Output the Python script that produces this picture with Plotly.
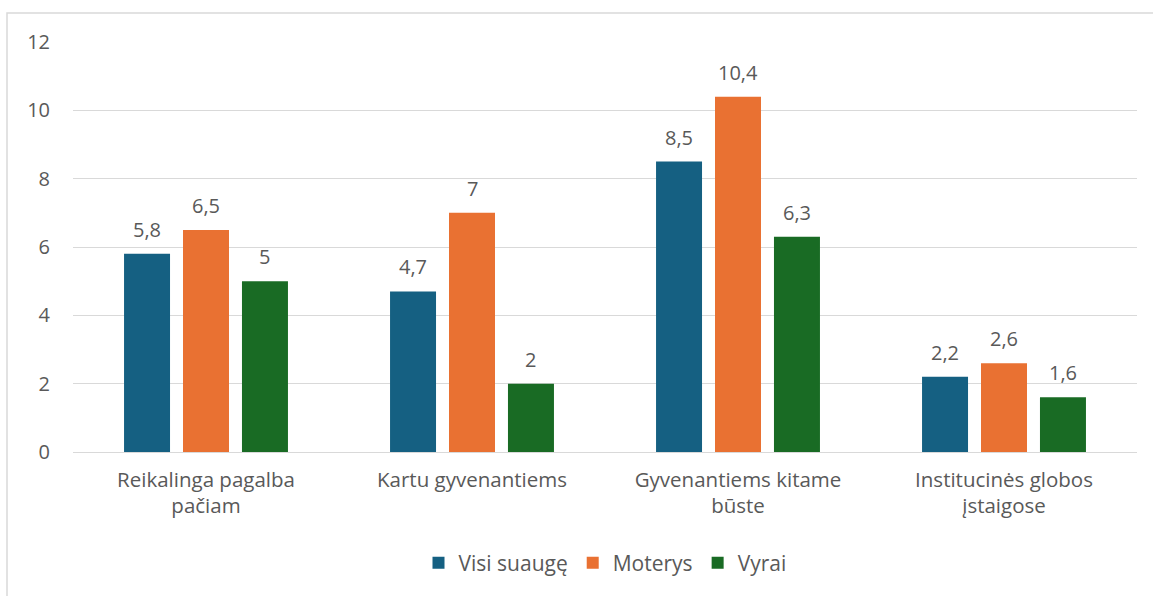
import plotly.graph_objects as go

categories = ["Reikalinga pagalba<br>pačiam", "Kartu gyvenantiems",
              "Gyvenantiems kitame<br>būste", "Institucinės globos<br>įstaigose"]
series_names = ["Visi suaugę", "Moterys", "Vyrai"]
visi = [5.8, 4.7, 8.5, 2.2]
moterys = [6.5, 7.0, 10.4, 2.6]
vyrai = [5.0, 2.0, 6.3, 1.6]
colors = ["#156082", "#E97132", "#196B24"]
y_ticks = [0, 2, 4, 6, 8, 10, 12]

series = [visi, moterys, vyrai]
font_family = "Open Sans, Lato, sans-serif"
txt_color = "#595959"

W, H = 1153, 596
ml, mr, mt, mb = 73, 16, 42, 144
bargap = 0.335
bargroupgap = 0.22

fig = go.Figure()
for name, vals, col in zip(series_names, series, colors):
    fig.add_trace(go.Bar(name=name, x=categories, y=vals, marker_color=col,
                         marker_line_width=0))

def fmt(v):
    return ("%g" % v).replace(".", ",")

annotations = []
n = len(series)
slot = (1 - bargap) / n
for k, vals in enumerate(series):
    for i, v in enumerate(vals):
        annotations.append(dict(
            x=i + (k - (n - 1) / 2) * slot, y=v, xref="x", yref="y",
            text=fmt(v), showarrow=False, yanchor="bottom", yshift=9,
            font=dict(family=font_family, size=20, color=txt_color)))

ph = H - mt - mb
fig.update_layout(
    width=W, height=H,
    margin=dict(l=ml, r=mr, t=mt, b=mb),
    paper_bgcolor="white", plot_bgcolor="white",
    barmode="group", bargap=bargap, bargroupgap=bargroupgap,
    font=dict(family=font_family, size=20, color=txt_color),
    annotations=annotations,
    legend=dict(orientation="h", x=0.5, xanchor="center",
                y=-(563 - (H - mb)) / ph, yanchor="middle",
                font=dict(size=21, color=txt_color), itemwidth=30,
                traceorder="normal"),
    shapes=[dict(type="rect", xref="paper", yref="paper",
                 x0=(7 - ml) / (W - ml - mr), x1=(W + 20 - ml) / (W - ml - mr),
                 y0=-(H + 20 - (H - mb)) / ph, y1=1 + (mt - 13) / ph,
                 line=dict(color="#D9D9D9", width=1.5), layer="below")],
)
fig.update_yaxes(range=[0, 12], tickvals=y_ticks, showgrid=True, gridcolor="#D9D9D9",
                 gridwidth=1, zeroline=False, showline=False, ticks="",
                 ticklabelstandoff=22, tickfont=dict(size=20, color=txt_color))
fig.update_xaxes(showline=True, linecolor="#D9D9D9", linewidth=1, ticks="",
                 ticklabelstandoff=9, tickfont=dict(size=20.5, color=txt_color))

fig.write_html("out.html", config={"displayModeBar": False},
               post_script="document.body.style.margin='0';")
